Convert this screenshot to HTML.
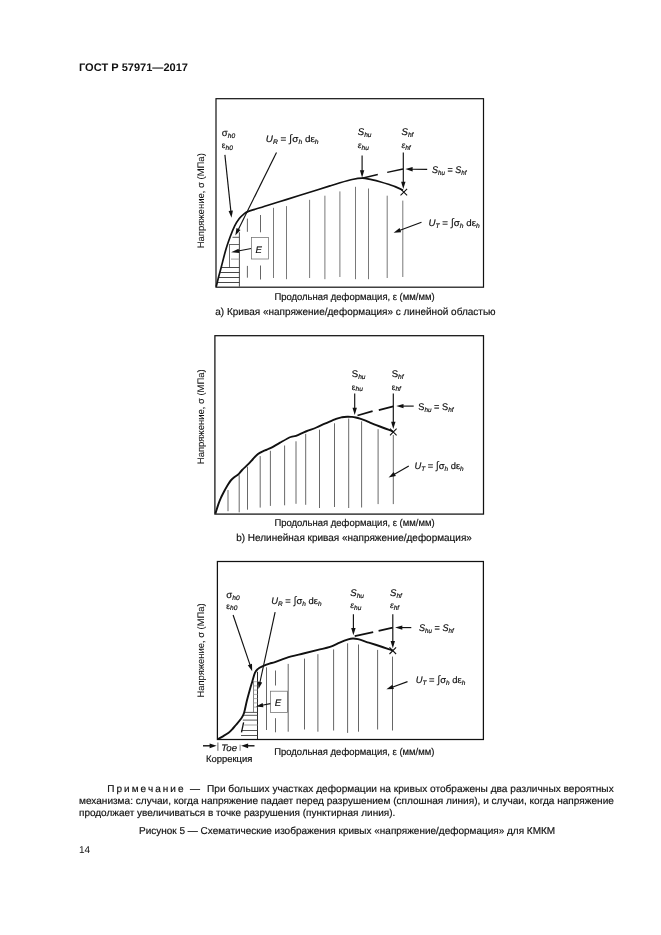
<!DOCTYPE html>
<html lang="ru"><head><meta charset="utf-8"><title>ГОСТ Р 57971—2017</title>
<style>
html,body{margin:0;padding:0;background:#fff;}
body{width:661px;height:935px;position:relative;overflow:hidden;font-family:"Liberation Sans",sans-serif;color:#111;text-rendering:geometricPrecision;}
.t{position:absolute;white-space:nowrap;line-height:1;transform-origin:0 0;}
svg{position:absolute;left:0;top:0;}
svg text{font-family:"Liberation Sans",sans-serif;fill:#111;text-rendering:geometricPrecision;stroke:#111;stroke-width:0.18px;}
.hdr{left:78.6px;top:62.5px;font-size:11px;font-weight:bold;transform:scaleX(1.004);}
.p{left:79.1px;font-size:10px;-webkit-text-stroke:0.18px #111;}
</style></head><body>
<div class="t hdr" id="hdr">ГОСТ Р 57971—2017</div>
<svg width="661" height="935" viewBox="0 0 661 935">
<g id="c1"><line x1="273.5" y1="207.8" x2="273.5" y2="278" stroke="#6a6a6a" stroke-width="0.9"/>
<line x1="286.5" y1="206.1" x2="286.5" y2="279.2" stroke="#6a6a6a" stroke-width="0.9"/>
<line x1="309.6" y1="199.8" x2="309.6" y2="278" stroke="#6a6a6a" stroke-width="0.9"/>
<line x1="324.9" y1="195.7" x2="324.9" y2="279.2" stroke="#6a6a6a" stroke-width="0.9"/>
<line x1="339.9" y1="191.4" x2="339.9" y2="277" stroke="#6a6a6a" stroke-width="0.9"/>
<line x1="355.5" y1="186.8" x2="355.5" y2="279.2" stroke="#6a6a6a" stroke-width="0.9"/>
<line x1="368.5" y1="188.5" x2="368.5" y2="279.2" stroke="#6a6a6a" stroke-width="0.9"/>
<line x1="387.2" y1="195.7" x2="387.2" y2="278" stroke="#6a6a6a" stroke-width="0.9"/>
<line x1="402.8" y1="200.6" x2="402.8" y2="277" stroke="#6a6a6a" stroke-width="0.9"/>
<line x1="247.4" y1="218.6" x2="247.4" y2="231.8" stroke="#555" stroke-width="0.9"/>
<line x1="247.4" y1="265.9" x2="247.4" y2="277.7" stroke="#555" stroke-width="0.9"/>
<line x1="260.5" y1="215" x2="260.5" y2="232.3" stroke="#555" stroke-width="0.9"/>
<line x1="260.5" y1="265.5" x2="260.5" y2="279.5" stroke="#555" stroke-width="0.9"/>
<line x1="239.4" y1="232.3" x2="239.4" y2="286.6" stroke="#333" stroke-width="0.9"/>
<line x1="229.5" y1="244.1" x2="229.5" y2="267.5" stroke="#444" stroke-width="0.8"/>
<line x1="232.5" y1="237.3" x2="239.4" y2="237.3" stroke="#444" stroke-width="0.9"/>
<line x1="229.5" y1="244.5" x2="239.4" y2="244.5" stroke="#555" stroke-width="0.9"/>
<line x1="231" y1="259.1" x2="239.4" y2="259.1" stroke="#999" stroke-width="0.9"/>
<line x1="221.5" y1="267.5" x2="239.4" y2="267.5" stroke="#333" stroke-width="0.9"/>
<line x1="220.2" y1="272.5" x2="239.4" y2="272.5" stroke="#333" stroke-width="0.9"/>
<line x1="218.8" y1="277.5" x2="239.4" y2="277.5" stroke="#333" stroke-width="0.9"/>
<line x1="217.5" y1="282.5" x2="239.4" y2="282.5" stroke="#333" stroke-width="0.9"/>
<path d="M216.2,286.8 C216.6,285.3 217.6,280.9 218.4,277.7 C219.2,274.5 219.9,272.2 221.1,267.7 C222.3,263.2 224.1,255.7 225.6,250.5 C227.1,245.3 228.7,240.9 230.2,236.8 C231.7,232.7 233.2,228.9 234.7,225.9 C236.2,222.9 237.8,220.6 239.3,218.6 C240.8,216.6 242.3,215.3 243.8,214.1 C245.3,212.9 245.7,212.4 248.4,211.4 C251.1,210.4 254.7,209.5 260,207.8 C265.3,206.2 273.3,203.6 280,201.5 C286.7,199.4 293.8,197.2 300,195.3 C306.2,193.4 312.0,191.6 317,190 C322.0,188.4 326.2,187.1 330,185.9 C333.8,184.7 336.3,183.9 340,182.8 C343.7,181.7 348.4,180.3 352.1,179.5 C355.8,178.7 359.0,178.1 362.2,178.1 C365.4,178.1 368.5,179.1 371.5,179.7 C374.5,180.3 377.2,180.9 380,181.7 C382.8,182.5 385.8,183.4 388.4,184.3 C391.0,185.2 393.3,185.9 395.7,186.9 C398.1,187.9 401.8,189.6 403,190.2" fill="none" stroke="#111" stroke-width="1.7" stroke-linejoin="round"/>
<path d="M362,178.2 L377.8,174.5 M387.2,172.4 L403,169" fill="none" stroke="#111" stroke-width="1.4"/>
<path d="M400.5,188.8 L407.1,195.4 M407.1,188.8 L400.5,195.4" stroke="#111" stroke-width="1.1" fill="none"/>
<line x1="362.1" y1="155.6" x2="362.1" y2="171.2" stroke="#111" stroke-width="1.15"/><polygon points="362.1,177.4 359.9,170.2 364.3,170.2" fill="#111"/>
<line x1="403.3" y1="152.5" x2="403.3" y2="182.8" stroke="#111" stroke-width="1.15"/><polygon points="403.3,189.0 401.1,181.8 405.5,181.8" fill="#111"/>
<line x1="427.2" y1="169.4" x2="411.6" y2="169.2" stroke="#111" stroke-width="1.15"/><polygon points="405.4,169.1 412.6,167.0 412.6,171.4" fill="#111"/>
<line x1="421.5" y1="222.3" x2="399.4" y2="230.5" stroke="#111" stroke-width="1.15"/><polygon points="393.6,232.7 399.6,228.1 401.1,232.2" fill="#111"/>
<line x1="224.9" y1="154.9" x2="230.9" y2="211.6" stroke="#111" stroke-width="1.15"/><polygon points="231.5,217.8 228.6,210.9 232.9,210.4" fill="#111"/>
<line x1="276.5" y1="152.5" x2="238.1" y2="229.9" stroke="#111" stroke-width="1.15"/><polygon points="235.3,235.5 236.5,228.1 240.5,230.0" fill="#111"/>
<line x1="251.3" y1="248.5" x2="238.0" y2="251.0" stroke="#111" stroke-width="1.15"/><polygon points="231.1,252.3 238.6,248.7 239.4,253.0" fill="#111"/>
<rect x="251.4" y="237.5" width="17" height="21.5" fill="#fff" stroke="#707070" stroke-width="0.75"/>
<text x="255.6" y="252.6" font-size="9.6" style="font-style:italic">E</text>
<text id="c1shu" x="357.8" y="135" font-size="9.6"><tspan style="font-style:italic;">S</tspan><tspan font-size="6.6" dy="1.8" style="font-style:italic">hu</tspan></text>
<text id="c1ehu" x="357.8" y="147.9" font-size="8.4"><tspan style="font-style:italic;">ε</tspan><tspan font-size="6.6" dy="1.8" style="font-style:italic">hu</tspan></text>
<text id="c1shf" x="401.5" y="135" font-size="9.6"><tspan style="font-style:italic;">S</tspan><tspan font-size="6.6" dy="1.8" style="font-style:italic">hf</tspan></text>
<text id="c1ehf" x="401.5" y="147.9" font-size="8.4"><tspan style="font-style:italic;">ε</tspan><tspan font-size="6.6" dy="1.8" style="font-style:italic">hf</tspan></text>
<text id="c1s0" x="221.8" y="136" font-size="9.6"><tspan style="">σ</tspan><tspan font-size="6.6" dy="1.8" style="font-style:italic">h0</tspan></text>
<text id="c1e0" x="221.8" y="148.1" font-size="8.4"><tspan style="">ε</tspan><tspan font-size="6.6" dy="1.8" style="font-style:italic">h0</tspan></text>
<text id="c1eq" x="432.1" y="172.8" font-size="9.6" textLength="34.4" lengthAdjust="spacingAndGlyphs"><tspan style="font-style:italic">S</tspan><tspan font-size="6.6" dy="1.8" style="font-style:italic">hu</tspan><tspan dy="-1.8"> = </tspan><tspan style="font-style:italic">S</tspan><tspan font-size="6.6" dy="1.8" style="font-style:italic">hf</tspan></text>
<text id="c1ur" x="265.8" y="142" font-size="9.3" textLength="52.8" lengthAdjust="spacingAndGlyphs"><tspan style="font-style:italic">U</tspan><tspan font-size="6.4" dy="1.8" style="font-style:italic">R</tspan><tspan dy="-1.8"> = </tspan><tspan font-size="11" dy="-0.2" style="stroke-width:0">∫</tspan><tspan dy="0.2">σ</tspan><tspan font-size="6.4" dy="1.8" style="font-style:italic">h</tspan><tspan dy="-1.8"> dε</tspan><tspan font-size="6.4" dy="1.8" style="font-style:italic">h</tspan></text>
<text id="c1ut" x="428.5" y="226.3" font-size="9.3" textLength="51.2" lengthAdjust="spacingAndGlyphs"><tspan style="font-style:italic">U</tspan><tspan font-size="6.4" dy="1.8" style="font-style:italic">T</tspan><tspan dy="-1.8"> = </tspan><tspan font-size="11" dy="-0.2" style="stroke-width:0">∫</tspan><tspan dy="0.2">σ</tspan><tspan font-size="6.4" dy="1.8" style="font-style:italic">h</tspan><tspan dy="-1.8"> dε</tspan><tspan font-size="6.4" dy="1.8" style="font-style:italic">h</tspan></text>
<text id="c1y" transform="translate(203.6,248.3) rotate(-90)" font-size="9.5" style="stroke-width:0.06px" textLength="95.1" lengthAdjust="spacingAndGlyphs">Напряжение, σ (МПа)</text>
<text id="c1x" x="274.4" y="300.4" font-size="9.8" textLength="160.2" lengthAdjust="spacingAndGlyphs">Продольная деформация, ε (мм/мм)</text>
<text id="c1cap" x="215.3" y="315" font-size="10.2" textLength="280.3" lengthAdjust="spacingAndGlyphs">а) Кривая «напряжение/деформация» с линейной областью</text>
<rect x="216" y="98.7" width="267.5" height="188.5" fill="none" stroke="#111" stroke-width="1.2"/></g>
<g id="c2"><line x1="228" y1="490" x2="228" y2="511.2" stroke="#585858" stroke-width="0.9"/>
<line x1="239.2" y1="475.2" x2="239.2" y2="512.3" stroke="#585858" stroke-width="0.9"/>
<line x1="247.5" y1="466.7" x2="247.5" y2="509.7" stroke="#585858" stroke-width="0.9"/>
<line x1="260.2" y1="456.1" x2="260.2" y2="507.6" stroke="#585858" stroke-width="0.9"/>
<line x1="270.4" y1="450.8" x2="270.4" y2="505.9" stroke="#585858" stroke-width="0.9"/>
<line x1="284.6" y1="445.5" x2="284.6" y2="505.3" stroke="#585858" stroke-width="0.9"/>
<line x1="296" y1="441.3" x2="296" y2="503.8" stroke="#585858" stroke-width="0.9"/>
<line x1="305.7" y1="433.9" x2="305.7" y2="504.8" stroke="#585858" stroke-width="0.9"/>
<line x1="319.5" y1="429.7" x2="319.5" y2="508" stroke="#585858" stroke-width="0.9"/>
<line x1="334.5" y1="423.3" x2="334.5" y2="507" stroke="#585858" stroke-width="0.9"/>
<line x1="348.7" y1="418.5" x2="348.7" y2="508" stroke="#585858" stroke-width="0.9"/>
<line x1="361.6" y1="421.3" x2="361.6" y2="507.5" stroke="#585858" stroke-width="0.9"/>
<line x1="378.1" y1="429.2" x2="378.1" y2="504.1" stroke="#585858" stroke-width="0.9"/>
<line x1="393.3" y1="435" x2="393.3" y2="504.1" stroke="#585858" stroke-width="0.9"/>
<path d="M215.4,513.6 C215.9,512.0 217.6,506.5 218.5,503.9 C219.4,501.3 219.8,500.3 220.9,497.9 C222.0,495.5 224.0,491.7 225.2,489.4 C226.4,487.1 227.2,485.8 228.2,484.2 C229.2,482.6 230.2,481.1 231.2,480 C232.2,478.9 233.0,478.3 234.2,477.3 C235.4,476.3 237.2,475.4 238.5,474.2 C239.8,473.0 240.5,471.7 242.1,470 C243.7,468.3 246.5,466.0 248.3,464.2 C250.1,462.4 251.4,460.7 253,459 C254.6,457.3 256.4,455.3 258,454 C259.6,452.7 261.3,452.0 262.8,451.3 C264.3,450.6 265.5,450.3 267,449.6 C268.5,448.9 269.8,448.5 272,447.3 C274.2,446.1 277.0,444.3 280.1,442.6 C283.2,440.9 288.1,438.1 290.7,437 C293.3,435.9 293.5,436.8 296,435.9 C298.5,435.0 302.4,432.9 305.8,431.5 C309.2,430.1 313.1,428.9 316.4,427.5 C319.7,426.1 322.2,424.8 325.5,423.4 C328.8,422.0 333.4,419.9 336.1,418.9 C338.9,417.9 340.1,417.7 342,417.3 C343.9,416.9 345.7,416.8 347.4,416.7 C349.1,416.6 350.6,416.8 352,416.9 C353.4,417.0 354.5,417.2 355.8,417.5 C357.1,417.8 358.5,418.2 360,418.7 C361.5,419.2 363.3,419.8 365,420.4 C366.7,421.0 368.1,421.8 370,422.6 C371.9,423.4 374.2,424.4 376.3,425.2 C378.4,426.0 380.5,426.8 382.5,427.5 C384.5,428.2 386.6,429.0 388.4,429.7 C390.2,430.4 392.5,431.4 393.3,431.8" fill="none" stroke="#111" stroke-width="1.9" stroke-linejoin="round"/>
<path d="M357.5,415.5 L372.6,411.2 M378.8,410.1 L393.3,406.3" fill="none" stroke="#111" stroke-width="1.8"/>
<path d="M390.0,428.7 L396.6,435.3 M396.6,428.7 L390.0,435.3" stroke="#111" stroke-width="1.1" fill="none"/>
<line x1="354.7" y1="393.6" x2="354.7" y2="408.7" stroke="#111" stroke-width="1.15"/><polygon points="354.7,414.9 352.5,407.7 356.9,407.7" fill="#111"/>
<line x1="393.3" y1="393.6" x2="393.3" y2="422.8" stroke="#111" stroke-width="1.15"/><polygon points="393.3,429.0 391.1,421.8 395.5,421.8" fill="#111"/>
<line x1="413.7" y1="406.1" x2="402.5" y2="406.1" stroke="#111" stroke-width="1.15"/><polygon points="396.3,406.1 403.5,403.9 403.5,408.3" fill="#111"/>
<line x1="408.8" y1="466.0" x2="394.0" y2="474.5" stroke="#111" stroke-width="1.15"/><polygon points="388.6,477.6 393.7,472.1 395.9,475.9" fill="#111"/>
<text id="c2shu" x="351.8" y="377" font-size="9.6"><tspan style="">S</tspan><tspan font-size="6.6" dy="1.8" style="font-style:italic">hu</tspan></text>
<text id="c2ehu" x="351.8" y="389.5" font-size="8.4"><tspan style="">ε</tspan><tspan font-size="6.6" dy="1.8" style="font-style:italic">hu</tspan></text>
<text id="c2shf" x="391.7" y="377" font-size="9.6"><tspan style="">S</tspan><tspan font-size="6.6" dy="1.8" style="font-style:italic">hf</tspan></text>
<text id="c2ehf" x="391.7" y="389.5" font-size="8.4"><tspan style="">ε</tspan><tspan font-size="6.6" dy="1.8" style="font-style:italic">hf</tspan></text>
<text id="c2eq" x="418.3" y="410.4" font-size="9.6" textLength="35.2" lengthAdjust="spacingAndGlyphs"><tspan style="">S</tspan><tspan font-size="6.6" dy="1.8" style="font-style:italic">hu</tspan><tspan dy="-1.8"> = </tspan><tspan style="">S</tspan><tspan font-size="6.6" dy="1.8" style="font-style:italic">hf</tspan></text>
<text id="c2ut" x="414.4" y="468.9" font-size="9.3" textLength="49.3" lengthAdjust="spacingAndGlyphs"><tspan style="font-style:italic">U</tspan><tspan font-size="6.4" dy="1.8" style="font-style:italic">T</tspan><tspan dy="-1.8"> = </tspan><tspan font-size="11" dy="-0.2" style="stroke-width:0">∫</tspan><tspan dy="0.2">σ</tspan><tspan font-size="6.4" dy="1.8" style="font-style:italic">h</tspan><tspan dy="-1.8"> dε</tspan><tspan font-size="6.4" dy="1.8" style="font-style:italic">h</tspan></text>
<rect x="214.9" y="335.7" width="268.6" height="178.4" fill="none" stroke="#111" stroke-width="1.25"/>
<text id="c2y" transform="translate(204.1,464.2) rotate(-90)" font-size="9.5" style="stroke-width:0.06px" textLength="94.9" lengthAdjust="spacingAndGlyphs">Напряжение, σ (МПа)</text>
<text id="c2x" x="274.4" y="526.2" font-size="9.8" textLength="160.2" lengthAdjust="spacingAndGlyphs">Продольная деформация, ε (мм/мм)</text>
<text id="c2cap" x="236.2" y="540.8" font-size="10.2" textLength="235.7" lengthAdjust="spacingAndGlyphs">b) Нелинейная кривая «напряжение/деформация»</text></g>
<g id="c3"><line x1="266.5" y1="667.3" x2="266.5" y2="730" stroke="#555" stroke-width="0.9"/>
<line x1="304.5" y1="658.6" x2="304.5" y2="729.5" stroke="#555" stroke-width="0.9"/>
<line x1="317.9" y1="654.2" x2="317.9" y2="731.7" stroke="#555" stroke-width="0.9"/>
<line x1="333.6" y1="649.4" x2="333.6" y2="730.5" stroke="#555" stroke-width="0.9"/>
<line x1="347.6" y1="643.3" x2="347.6" y2="732.9" stroke="#555" stroke-width="0.9"/>
<line x1="358.5" y1="644.5" x2="358.5" y2="731.7" stroke="#555" stroke-width="0.9"/>
<line x1="377.6" y1="649.9" x2="377.6" y2="729.5" stroke="#555" stroke-width="0.9"/>
<line x1="392.5" y1="656.6" x2="392.5" y2="730.5" stroke="#555" stroke-width="0.9"/>
<line x1="275.5" y1="670.5" x2="275.5" y2="685.5" stroke="#555" stroke-width="0.9"/>
<line x1="275.5" y1="718.2" x2="275.5" y2="732.3" stroke="#555" stroke-width="0.9"/>
<line x1="257.5" y1="671.8" x2="257.5" y2="739" stroke="#2a2a2a" stroke-width="1"/>
<line x1="253.5" y1="681.4" x2="253.5" y2="712.3" stroke="#777" stroke-width="0.9"/>
<line x1="253.5" y1="681.7" x2="257.5" y2="681.7" stroke="#999" stroke-width="0.8"/>
<line x1="253.5" y1="685.9" x2="257.5" y2="685.9" stroke="#999" stroke-width="0.8"/>
<line x1="253.5" y1="690.1" x2="257.5" y2="690.1" stroke="#999" stroke-width="0.8"/>
<line x1="253.5" y1="694.4" x2="257.5" y2="694.4" stroke="#999" stroke-width="0.8"/>
<line x1="253.5" y1="698.6" x2="257.5" y2="698.6" stroke="#999" stroke-width="0.8"/>
<line x1="253.5" y1="702.9" x2="257.5" y2="702.9" stroke="#999" stroke-width="0.8"/>
<line x1="253.5" y1="707.1" x2="257.5" y2="707.1" stroke="#999" stroke-width="0.8"/>
<line x1="244.1" y1="712.4" x2="257.5" y2="712.4" stroke="#444" stroke-width="0.9"/>
<line x1="243.3" y1="715.3" x2="257.5" y2="715.3" stroke="#444" stroke-width="0.9"/>
<line x1="242.8" y1="720.1" x2="257.5" y2="720.1" stroke="#444" stroke-width="0.9"/>
<line x1="244.2" y1="725" x2="257.5" y2="725" stroke="#999" stroke-width="0.9"/>
<line x1="241.4" y1="730.5" x2="257.5" y2="730.5" stroke="#444" stroke-width="0.9"/>
<line x1="241" y1="735.5" x2="257.5" y2="735.5" stroke="#444" stroke-width="0.9"/>
<line x1="243.6" y1="722.3" x2="241.5" y2="732.3" stroke="#111" stroke-width="1.3"/>
<path d="M217.6,739.2 C218.4,738.8 220.7,737.7 222.5,736.6 C224.3,735.5 226.9,734.0 228.6,732.7 C230.3,731.4 231.3,730.3 232.5,729 C233.7,727.7 234.4,726.8 235.9,725 C237.4,723.2 240.0,720.2 241.4,718.2 C242.8,716.2 243.2,715.6 244.1,712.7 C245.0,709.8 245.9,704.5 246.8,700.9 C247.7,697.3 248.6,694.1 249.5,690.9 C250.4,687.6 251.4,684.4 252.3,681.4 C253.2,678.4 254.1,674.8 255,672.7 C255.9,670.7 256.5,670.2 257.7,669.1 C258.9,668.0 260.3,667.3 262.3,666.4 C264.3,665.5 267.4,664.3 269.5,663.6 C271.6,662.9 272.2,663.1 275,662.1 C277.8,661.1 281.8,659.2 286.5,657.8 C291.2,656.4 298.2,654.8 303.4,653.5 C308.6,652.2 313.5,651.0 317.9,649.9 C322.3,648.8 326.4,648.1 330,646.9 C333.6,645.7 336.7,643.9 339.7,642.6 C342.7,641.3 346.0,640.0 348.2,639.3 C350.4,638.6 351.4,638.5 353,638.5 C354.6,638.5 355.3,638.5 357.9,639.2 C360.5,639.9 365.0,641.4 368.8,642.6 C372.6,643.8 376.9,645.2 380.9,646.5 C384.8,647.8 390.6,649.8 392.5,650.4" fill="none" stroke="#111" stroke-width="1.9" stroke-linejoin="round"/>
<path d="M354.7,636.1 L373.2,632.2 M378.6,630.9 L392.8,627.6" fill="none" stroke="#111" stroke-width="1.8"/>
<path d="M389.5,647.4000000000001 L396.1,654.0 M396.1,647.4000000000001 L389.5,654.0" stroke="#111" stroke-width="1.1" fill="none"/>
<line x1="353.4" y1="614.2" x2="353.4" y2="629.1" stroke="#111" stroke-width="1.15"/><polygon points="353.4,635.3 351.2,628.1 355.6,628.1" fill="#111"/>
<line x1="392.8" y1="614.2" x2="392.8" y2="642.0" stroke="#111" stroke-width="1.15"/><polygon points="392.8,648.2 390.6,641.0 395.0,641.0" fill="#111"/>
<line x1="411.3" y1="627.6" x2="401.3" y2="627.6" stroke="#111" stroke-width="1.15"/><polygon points="395.1,627.6 402.3,625.4 402.3,629.8" fill="#111"/>
<line x1="407.5" y1="681.6" x2="392.2" y2="687.2" stroke="#111" stroke-width="1.15"/><polygon points="386.4,689.3 392.4,684.8 393.9,688.9" fill="#111"/>
<line x1="233.1" y1="615.0" x2="250.2" y2="665.4" stroke="#111" stroke-width="1.15"/><polygon points="252.2,671.3 247.8,665.2 252.0,663.8" fill="#111"/>
<line x1="275.1" y1="612.2" x2="259.8" y2="683.0" stroke="#111" stroke-width="1.15"/><polygon points="258.5,689.1 257.9,681.6 262.2,682.5" fill="#111"/>
<rect x="270.6" y="691.2" width="17" height="21.2" fill="#fff" stroke="#707070" stroke-width="0.75"/>
<text x="274.8" y="706" font-size="9.6" style="font-style:italic">E</text>
<line x1="288.2" y1="663.9" x2="288.2" y2="731.7" stroke="#555" stroke-width="0.9"/>
<line x1="270.4" y1="703.6" x2="262.0" y2="705.2" stroke="#111" stroke-width="1.15"/><polygon points="255.9,706.4 262.6,702.9 263.4,707.2" fill="#111"/>
<text id="c3shu" x="350.3" y="595.9" font-size="9.6"><tspan style="font-style:italic;">S</tspan><tspan font-size="6.6" dy="1.8" style="font-style:italic">hu</tspan></text>
<text id="c3ehu" x="350.3" y="608.3" font-size="8.4"><tspan style="font-style:italic;">ε</tspan><tspan font-size="6.6" dy="1.8" style="font-style:italic">hu</tspan></text>
<text id="c3shf" x="390" y="595.9" font-size="9.6"><tspan style="font-style:italic;">S</tspan><tspan font-size="6.6" dy="1.8" style="font-style:italic">hf</tspan></text>
<text id="c3ehf" x="390" y="608.3" font-size="8.4"><tspan style="font-style:italic;">ε</tspan><tspan font-size="6.6" dy="1.8" style="font-style:italic">hf</tspan></text>
<text id="c3s0" x="226.3" y="598" font-size="9.6"><tspan style="">σ</tspan><tspan font-size="6.6" dy="1.8" style="font-style:italic">h0</tspan></text>
<text id="c3e0" x="226.3" y="608.6" font-size="8.4"><tspan style="">ε</tspan><tspan font-size="6.6" dy="1.8" style="font-style:italic">h0</tspan></text>
<text id="c3eq" x="419" y="631.4" font-size="9.6" textLength="34.7" lengthAdjust="spacingAndGlyphs"><tspan style="font-style:italic">S</tspan><tspan font-size="6.6" dy="1.8" style="font-style:italic">hu</tspan><tspan dy="-1.8"> = </tspan><tspan style="font-style:italic">S</tspan><tspan font-size="6.6" dy="1.8" style="font-style:italic">hf</tspan></text>
<text id="c3ur" x="271.3" y="603.7" font-size="9.3" textLength="50.2" lengthAdjust="spacingAndGlyphs"><tspan style="font-style:italic">U</tspan><tspan font-size="6.4" dy="1.8" style="font-style:italic">R</tspan><tspan dy="-1.8"> = </tspan><tspan font-size="11" dy="-0.2" style="stroke-width:0">∫</tspan><tspan dy="0.2">σ</tspan><tspan font-size="6.4" dy="1.8" style="font-style:italic">h</tspan><tspan dy="-1.8"> dε</tspan><tspan font-size="6.4" dy="1.8" style="font-style:italic">h</tspan></text>
<text id="c3ut" x="415.7" y="683.4" font-size="9.3" textLength="49.6" lengthAdjust="spacingAndGlyphs"><tspan style="font-style:italic">U</tspan><tspan font-size="6.4" dy="1.8" style="font-style:italic">T</tspan><tspan dy="-1.8"> = </tspan><tspan font-size="11" dy="-0.2" style="stroke-width:0">∫</tspan><tspan dy="0.2">σ</tspan><tspan font-size="6.4" dy="1.8" style="font-style:italic">h</tspan><tspan dy="-1.8"> dε</tspan><tspan font-size="6.4" dy="1.8" style="font-style:italic">h</tspan></text>
<line x1="203.0" y1="745.8" x2="210.6" y2="745.8" stroke="#111" stroke-width="1.4"/><polygon points="216.6,745.8 209.6,748.2 209.6,743.4" fill="#111"/>
<line x1="254.5" y1="745.8" x2="247.1" y2="745.8" stroke="#111" stroke-width="1.4"/><polygon points="241.1,745.8 248.1,743.4 248.1,748.2" fill="#111"/>
<line x1="217.9" y1="742.5" x2="217.9" y2="750.8" stroke="#555" stroke-width="0.9"/>
<line x1="240.1" y1="744.7" x2="240.1" y2="750.8" stroke="#777" stroke-width="0.9"/>
<text id="toe" x="221.2" y="750.5" font-size="9.3" style="font-style:italic" textLength="15.9" lengthAdjust="spacingAndGlyphs">Toe</text>
<text id="korr" x="206" y="762.2" font-size="9.3" textLength="46.4" lengthAdjust="spacingAndGlyphs">Коррекция</text>
<rect x="217.4" y="561.5" width="266" height="178" fill="none" stroke="#111" stroke-width="1.25"/>
<text id="c3y" transform="translate(203.7,697.6) rotate(-90)" font-size="9.5" style="stroke-width:0.06px" textLength="94.3" lengthAdjust="spacingAndGlyphs">Напряжение, σ (МПа)</text>
<text id="c3x" x="274.2" y="755.1" font-size="9.8" textLength="160.2" lengthAdjust="spacingAndGlyphs">Продольная деформация, ε (мм/мм)</text></g>
</svg>
<div class="t p" id="n1a" style="top:785px;left:107.2px;letter-spacing:2.05px">Примечание</div>
<div class="t p" id="n1b" style="top:785px;left:190.1px;">—</div>
<div class="t p" id="n1" style="top:785px;left:206.6px;transform:scaleX(1.0118)">При больших участках деформации на кривых отображены два различных вероятных</div>
<div class="t p" id="n2" style="top:797px;left:78.6px;transform:scaleX(1.0069)">механизма: случаи, когда напряжение падает перед разрушением (сплошная линия), и случаи, когда напряжение</div>
<div class="t p" id="n3" style="top:809px;left:78.6px;transform:scaleX(0.9976)">продолжает увеличиваться в точке разрушения (пунктирная линия).</div>
<div class="t p" id="cap" style="top:827px;left:138.9px;transform:scaleX(0.9988)">Рисунок 5 — Схематические изображения кривых «напряжение/деформация» для КМКМ</div>
<div class="t" id="pn" style="left:79px;top:846px;font-size:10px;">14</div>
</body></html>
